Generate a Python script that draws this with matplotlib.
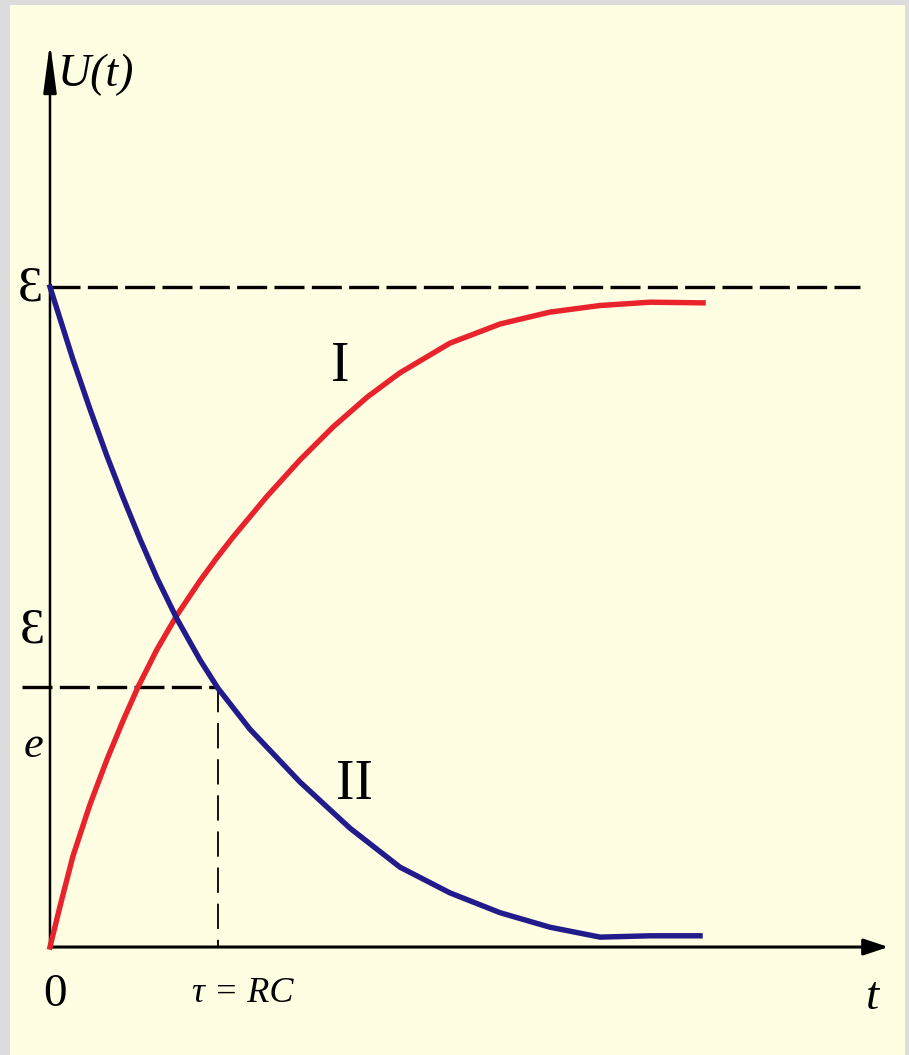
import numpy as np
import matplotlib
matplotlib.use("Agg")
import matplotlib.pyplot as plt

# curve I: charging, U/E against t/tau
t_charge = [0.0, 0.060, 0.137, 0.238, 0.339, 0.435, 0.524, 0.637, 0.756, 0.893, 0.994, 1.089,
            1.292, 1.488, 1.685, 1.887, 2.083, 2.381, 2.679, 2.976, 3.274, 3.571, 3.887]
u_charge = [0.0, 0.062, 0.138, 0.216, 0.284, 0.343, 0.394, 0.451, 0.503, 0.555, 0.590, 0.621,
            0.683, 0.738, 0.788, 0.833, 0.870, 0.915, 0.944, 0.962, 0.972, 0.977, 0.976]

# curve II: discharging
t_dis = [0.0, 0.137, 0.238, 0.339, 0.435, 0.536, 0.637, 0.756, 0.893, 1.0, 1.190, 1.488,
         1.786, 2.083, 2.381, 2.679, 2.976, 3.274, 3.571, 3.869]
u_dis = [1.0, 0.890, 0.815, 0.744, 0.681, 0.618, 0.559, 0.497, 0.435, 0.392, 0.330, 0.250,
         0.180, 0.121, 0.082, 0.052, 0.030, 0.015, 0.017, 0.017]

E_level = 1.0
E_over_e = 0.394      # where the lower dashed line sits in the picture
tau = 1.0
t_end = 4.99          # arrow tip of the t axis
u_end = 1.37          # arrow tip of the U axis
E_line_end = 4.82

bg_gray = "#dcdcdc"
paper = "#fffde2"
red = "#e8232b"
blue = "#221b8c"

fig = plt.figure(figsize=(9.09, 10.55), dpi=100)
fig.patch.set_facecolor(bg_gray)
ax = fig.add_axes([10/909, 0, 895/909, 1050/1055])
ax.set_facecolor(paper)
ax.set_xlim(-0.238, 5.089)
ax.set_ylim(-0.1636, 1.4273)
for s in ax.spines.values():
    s.set_visible(False)
ax.set_xticks([])
ax.set_yticks([])

# axes with arrows
ax.annotate("", xy=(t_end, 0), xytext=(0, 0),
            arrowprops=dict(arrowstyle="-|>,head_length=1.5,head_width=0.5", lw=2.2,
                            color="black", mutation_scale=10, shrinkA=0, shrinkB=0))
ax.annotate("", xy=(0, u_end), xytext=(0, 0),
            arrowprops=dict(arrowstyle="-|>,head_length=3.0,head_width=0.4", lw=1.8,
                            color="black", mutation_scale=10, shrinkA=0, shrinkB=0))

# dashed guide lines
ax.plot([0, E_line_end], [E_level, E_level], color="black", lw=2.4, dashes=(9, 2.2))
ax.plot([-0.167, tau], [E_over_e, E_over_e], color="black", lw=2.4, dashes=(9, 2.2))
ax.plot([tau, tau], [E_over_e, 0], color="black", lw=1.3, dashes=(14, 6))

ax.plot(t_charge, u_charge, color=red, lw=3.9, solid_joinstyle="round", zorder=3)
ax.plot(t_dis, u_dis, color=blue, lw=3.9, solid_joinstyle="round", zorder=3)

serif = dict(family=["Liberation Serif", "DejaVu Serif"])
ax.text(0.048, 1.321, "U(t)", ha="left", va="center", fontsize=33, style="italic", **serif)
ax.text(-0.119, 0.998, "Ɛ", ha="center", va="center", fontsize=36, **serif)
ax.text(-0.107, 0.480, "Ɛ", ha="center", va="center", fontsize=36, **serif)
ax.text(-0.101, 0.305, "e", ha="center", va="center", fontsize=32, style="italic", **serif)
ax.text(0.03, -0.073, "0", ha="center", va="center", fontsize=34, **serif)
ax.text(1.149, -0.070, "τ = RC", ha="center", va="center", fontsize=26, style="italic", **serif)
ax.text(4.893, -0.077, "t", ha="center", va="center", fontsize=34, style="italic", **serif)
ax.text(1.726, 0.879, "I", ha="center", va="center", fontsize=40, **serif)
ax.text(1.815, 0.245, "II", ha="center", va="center", fontsize=40, **serif)

fig.savefig("out.png", dpi=100, facecolor=fig.get_facecolor())
